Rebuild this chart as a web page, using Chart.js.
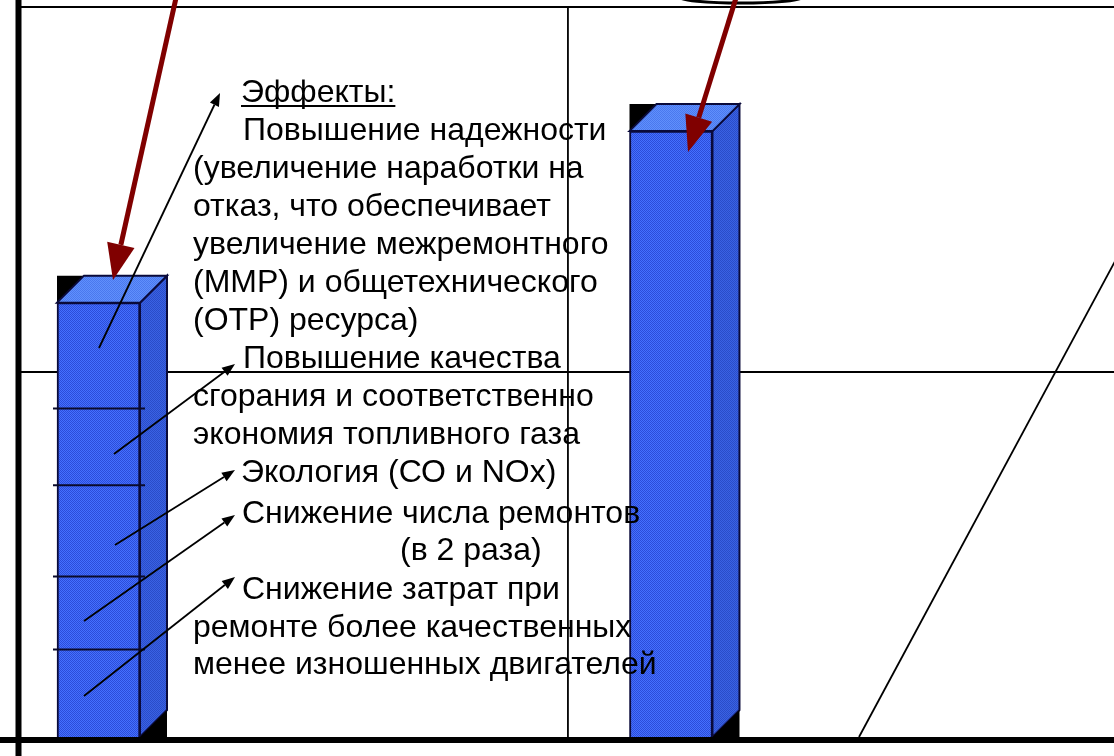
<!DOCTYPE html>
<html>
<head>
<meta charset="utf-8">
<script src="https://cdn.jsdelivr.net/npm/chart.js@4"></script>
<style>
  html, body { margin: 0; padding: 0; background: #ffffff; }
  #wrap { width: 1114px; height: 756px; position: relative; }
</style>
</head>
<body>
<div id="wrap"><canvas id="effectChart"></canvas></div>
<script>
// данные диаграммы
const categories = ["До", "После"];
const barPositions = [1, 5];
const barValues = [1.19, 1.66];
const yTicks = [0, 1, 2];
const xGridValues = [4.28];
const bar1Dividers = [0.24, 0.44, 0.69, 0.90];

// подписи
const textLines = [
    { t: "Эффекты:", x: 241, y: 102, u: true },
    { t: "Повышение надежности", x: 243, y: 140 },
    { t: "(увеличение наработки на", x: 193, y: 178 },
    { t: "отказ, что обеспечивает", x: 193, y: 216 },
    { t: "увеличение межремонтного", x: 193, y: 254 },
    { t: "(ММР) и общетехнического", x: 193, y: 292 },
    { t: "(ОТР) ресурса)", x: 193, y: 330 },
    { t: "Повышение качества", x: 243, y: 368 },
    { t: "сгорания и соответственно", x: 193, y: 406 },
    { t: "экономия топливного газа", x: 193, y: 444 },
    { t: "Экология (СО и NOx)", x: 241, y: 482 },
    { t: "Снижение числа ремонтов", x: 242, y: 523 },
    { t: "(в 2 раза)", x: 400, y: 560 },
    { t: "Снижение затрат при", x: 242, y: 599 },
    { t: "ремонте более качественных", x: 193, y: 637 },
    { t: "менее изношенных двигателей", x: 193, y: 674 }
];

// стрелки-указатели (от столбца к тексту)
const thinArrows = [
    [99, 348, 220, 93],
    [114, 454, 235, 364],
    [115, 545, 235, 470],
    [84, 621, 235, 515],
    [84, 696, 235, 577]
];
const redArrows = [
    [176, -2, 113, 280],
    [736, -2, 688, 152]
];

function makePattern(c1, c2) {
    const p = document.createElement("canvas");
    p.width = 2; p.height = 2;
    const g = p.getContext("2d");
    g.fillStyle = c1; g.fillRect(0, 0, 2, 2);
    g.fillStyle = c2; g.fillRect(0, 0, 1, 1); g.fillRect(1, 1, 1, 1);
    return g.createPattern(p, "repeat");
}

function arrow(ctx, x1, y1, x2, y2, color, lw, hl, hw) {
    const a = Math.atan2(y2 - y1, x2 - x1);
    const bx = x2 - hl * Math.cos(a), by = y2 - hl * Math.sin(a);
    ctx.strokeStyle = color;
    ctx.fillStyle = color;
    ctx.lineWidth = lw;
    ctx.beginPath(); ctx.moveTo(x1, y1); ctx.lineTo(bx, by); ctx.stroke();
    ctx.beginPath();
    ctx.moveTo(x2, y2);
    ctx.lineTo(bx + hw / 2 * Math.sin(a), by - hw / 2 * Math.cos(a));
    ctx.lineTo(bx - hw / 2 * Math.sin(a), by + hw / 2 * Math.cos(a));
    ctx.closePath(); ctx.fill();
}

const depth = 27;

const slidePlugin = {
    id: "slide",
    beforeDatasetsDraw(chart) {
        const ctx = chart.ctx;
        const ys = chart.scales.y, xs = chart.scales.x;
        const area = chart.chartArea;
        ctx.save();
        ctx.strokeStyle = "#000";
        ctx.lineWidth = 1.8;
        yTicks.forEach(v => {
            if (v === 0) return;
            const py = ys.getPixelForValue(v);
            ctx.beginPath(); ctx.moveTo(area.left, py); ctx.lineTo(chart.width, py); ctx.stroke();
        });
        xGridValues.forEach(v => {
            const px = xs.getPixelForValue(v);
            ctx.beginPath(); ctx.moveTo(px, ys.getPixelForValue(2)); ctx.lineTo(px, ys.getPixelForValue(0)); ctx.stroke();
        });
        ctx.restore();
    },
    afterDatasetsDraw(chart) {
        const ctx = chart.ctx;
        const ys = chart.scales.y;
        const meta = chart.getDatasetMeta(0);
        ctx.save();
        meta.data.forEach((bar, i) => {
            const w = bar.width;
            const l = bar.x - w / 2, r = bar.x + w / 2, t = bar.y, b = bar.base;
            // боковая грань
            ctx.fillStyle = makePattern("#3a62e4", "#2a4cc8");
            ctx.strokeStyle = "#0a0a3a";
            ctx.lineWidth = 2;
            ctx.beginPath();
            ctx.moveTo(r, t); ctx.lineTo(r + depth, t - depth); ctx.lineTo(r + depth, b - depth); ctx.lineTo(r, b);
            ctx.closePath(); ctx.fill(); ctx.stroke();
            ctx.fillStyle = "#000";
            ctx.beginPath(); ctx.moveTo(r, b); ctx.lineTo(r + depth, b - depth); ctx.lineTo(r + depth, b); ctx.closePath(); ctx.fill();
            // верхняя грань
            ctx.fillStyle = "#000";
            ctx.beginPath(); ctx.moveTo(l, t - depth); ctx.lineTo(l + depth, t - depth); ctx.lineTo(l, t); ctx.closePath(); ctx.fill();
            ctx.fillStyle = makePattern("#6090fc", "#4a78ee");
            ctx.beginPath();
            ctx.moveTo(l, t); ctx.lineTo(l + depth, t - depth); ctx.lineTo(r + depth, t - depth); ctx.lineTo(r, t);
            ctx.closePath(); ctx.fill(); ctx.stroke();
            // разделители первого столбца
            if (i === 0) {
                ctx.strokeStyle = "#0a0a2a";
                ctx.lineWidth = 2;
                bar1Dividers.forEach(v => {
                    const py = ys.getPixelForValue(v);
                    ctx.beginPath(); ctx.moveTo(l - 4, py); ctx.lineTo(r + 5, py); ctx.stroke();
                });
            }
        });

        // рамка
        ctx.strokeStyle = "#000";
        ctx.lineWidth = 1.8;
        ctx.beginPath(); ctx.moveTo(18, ys.getPixelForValue(2)); ctx.lineTo(chart.width, ys.getPixelForValue(2)); ctx.stroke();
        ctx.lineWidth = 6;
        ctx.beginPath(); ctx.moveTo(0, ys.getPixelForValue(0) + 3); ctx.lineTo(chart.width, ys.getPixelForValue(0) + 3); ctx.stroke();
        ctx.beginPath(); ctx.moveTo(18.5, 0); ctx.lineTo(18.5, chart.height); ctx.stroke();

        // диагональ справа
        ctx.lineWidth = 1.8;
        ctx.beginPath(); ctx.moveTo(859, ys.getPixelForValue(0)); ctx.lineTo(1120, 252); ctx.stroke();

        // дуга сверху
        ctx.lineWidth = 3;
        ctx.beginPath(); ctx.ellipse(741, -3, 62, 6, 0, 0, Math.PI); ctx.stroke();

        thinArrows.forEach(a => arrow(ctx, a[0], a[1], a[2], a[3], "#000", 1.8, 13, 10));
        redArrows.forEach(a => arrow(ctx, a[0], a[1], a[2], a[3], "#800000", 5, 36, 28));

        // текст
        ctx.fillStyle = "#000";
        ctx.font = "32px 'Liberation Sans', Arial, sans-serif";
        ctx.textBaseline = "alphabetic";
        ctx.textAlign = "left";
        textLines.forEach(l => {
            ctx.fillText(l.t, l.x, l.y);
            if (l.u) {
                const tw = ctx.measureText(l.t).width;
                ctx.fillRect(l.x, l.y + 3, tw, 2);
            }
        });
        ctx.restore();
    }
};

const ctx = document.getElementById("effectChart").getContext("2d");
new Chart(ctx, {
    type: "bar",
    data: {
        labels: categories,
        datasets: [{
            label: "Эффекты",
            data: barPositions.map((x, i) => ({ x: x, y: barValues[i] })),
            backgroundColor: makePattern("#4470ff", "#2c4cd8"),
            borderColor: "#0a0a3a",
            borderWidth: 2,
            borderSkipped: "bottom",
            barThickness: 83
        }]
    },
    options: {
        responsive: true,
        maintainAspectRatio: false,
        animation: false,
        layout: { padding: { left: 18, right: 0, top: 7, bottom: 19 } },
        plugins: { legend: { display: false }, tooltip: { enabled: false } },
        scales: {
            x: { type: "linear", min: 0.4375, max: 8.0955, offset: false, display: false },
            y: { min: 0, max: 2, display: false }
        }
    },
    plugins: [slidePlugin]
});
</script>
</body>
</html>
